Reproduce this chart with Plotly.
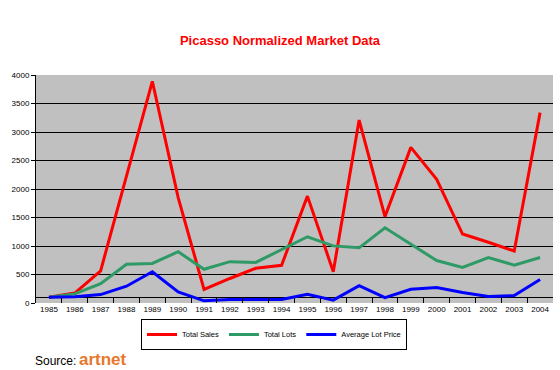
import plotly.graph_objects as go

years = [str(y) for y in range(1985, 2005)]
total_sales = [100, 175, 565, 2250, 3890, 1850, 238, 430, 608, 662, 1875, 550, 3210, 1515, 2730, 2170, 1210, 1065, 912, 3340]
total_lots = [100, 160, 340, 678, 695, 900, 592, 725, 712, 940, 1162, 1002, 968, 1320, 1040, 745, 624, 798, 665, 798]
avg_lot_price = [100, 108, 148, 295, 548, 195, 38, 62, 62, 60, 153, 50, 305, 95, 240, 270, 185, 115, 130, 412]

series = [
    ("Total Sales", total_sales, "#FF0000"),
    ("Total Lots", total_lots, "#2E9A66"),
    ("Average Lot Price", avg_lot_price, "#0000FF"),
]

fig = go.Figure()
for name, vals, color in series:
    fig.add_trace(go.Scatter(x=years, y=vals, name=name, mode="lines",
                             line=dict(color=color, width=3)))

# invisible trace on overlay axis for grid lines
fig.add_trace(go.Scatter(x=years, y=[None]*len(years), yaxis="y2", showlegend=False,
                         hoverinfo="skip"))

grid_vals = [100] + list(range(500, 4001, 500))

fig.update_layout(
    width=560, height=370,
    margin=dict(l=36, r=7, t=75, b=67),
    paper_bgcolor="white",
    plot_bgcolor="#C0C0C0",
    font=dict(family="Arial, Liberation Sans, sans-serif", color="black"),
    title=dict(text="<b>Picasso Normalized Market Data</b>", x=0.5, xanchor="center",
               y=1 - 40/370, yanchor="middle",
               font=dict(size=13, color="#FF0000")),
    xaxis=dict(type="category", range=[-0.5, len(years) - 0.5], showgrid=False,
               ticks="inside", ticklen=5, tickangle=0,
               tickcolor="black", tickson="boundaries", tickfont=dict(size=8),
               showline=False, zeroline=False, automargin=False),
    yaxis=dict(range=[0, 4000], tickvals=list(range(0, 4001, 500)), showgrid=False,
               ticks="outside", ticklen=4, tickcolor="black", tickfont=dict(size=8),
               showline=True, linecolor="black", linewidth=1, zeroline=False,
               automargin=False),
    yaxis2=dict(range=[0, 4000], overlaying="y", tickvals=grid_vals, showgrid=True,
                gridcolor="black", gridwidth=1, showticklabels=False, ticks="",
                zeroline=False, showline=False),
    legend=dict(orientation="h", x=(274-36)/517, xanchor="center",
                y=(303-319)/228, yanchor="top",
                bordercolor="black", borderwidth=1, bgcolor="white",
                font=dict(size=7.5), itemwidth=30, tracegroupgap=0),
    annotations=[
        dict(text="Source:", xref="paper", yref="paper", x=(33-36)/517, y=(303-361)/228,
             xanchor="left", yanchor="middle", showarrow=False,
             font=dict(size=12, color="black")),
        dict(text="<b>artnet</b>", xref="paper", yref="paper", x=(77-36)/517, y=(303-359)/228,
             xanchor="left", yanchor="middle", showarrow=False,
             font=dict(size=17, color="#E8772E")),
    ],
)

fig.write_html("out.html", config={"displayModeBar": False},
               post_script="document.body.style.margin='0';")
